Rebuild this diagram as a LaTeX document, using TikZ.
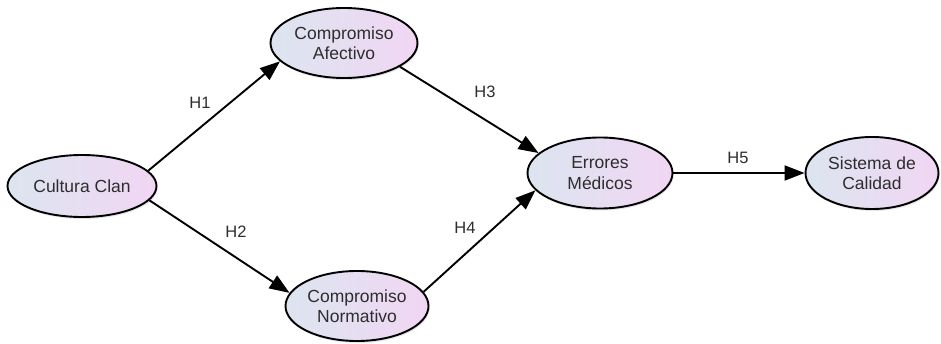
\documentclass[tikz,border=0pt]{standalone}
\usepackage{fontspec}
\setmainfont{Liberation Sans}
\usetikzlibrary{shapes.geometric,arrows.meta,shadows}

\definecolor{lvleft}{RGB}{220,229,240}
\definecolor{lvright}{RGB}{241,214,243}
\definecolor{lvtext}{RGB}{45,45,45}

\tikzset{
  latent/.style={ellipse, draw, line width=1.9pt, inner sep=0pt,
    left color=lvleft, right color=lvright, text=lvtext, align=center,
    font=\fontsize{17.5}{20.5}\selectfont,
    drop shadow={opacity=0.2, shadow xshift=1pt, shadow yshift=-2pt}},
  path/.style={line width=1.9pt, -{Triangle[length=20pt,width=15pt]}},
  hyp/.style={text=lvtext, font=\fontsize{16.5}{19}\selectfont}
}

\begin{document}
\begin{tikzpicture}[x=1pt, y=-1pt]
  \useasboundingbox (0,0) rectangle (941,344);
  \node[latent, minimum width=149pt, minimum height=62pt] (cc) at (82,186) {Cultura Clan};
  \node[latent, minimum width=147pt, minimum height=70pt] (ca) at (344,43) {Compromiso\\Afectivo};
  \node[latent, minimum width=143pt, minimum height=70pt] (cn) at (357,306) {Compromiso\\Normativo};
  \node[latent, minimum width=145pt, minimum height=71pt] (em) at (600,173) {Errores\\Médicos};
  \node[latent, minimum width=133pt, minimum height=72pt] (sc) at (872,173) {Sistema de\\Calidad};
  \node[hyp] (h1) at (200,103) {H1};
  \node[hyp] (h2) at (236,232) {H2};
  \node[hyp] (h3) at (485,92) {H3};
  \node[hyp] (h4) at (465,228) {H4};
  \node[hyp] (h5) at (738,158) {H5};
  \draw[path] (cc.13) -- (ca.196);
  \draw[path] (cc.348) -- (cn.169);
  \draw[path] (ca.337) -- (em.162);
  \draw[path] (cn.12) -- (em.195);
  \draw[path] (em.east) -- (sc.west);
\end{tikzpicture}
\end{document}
